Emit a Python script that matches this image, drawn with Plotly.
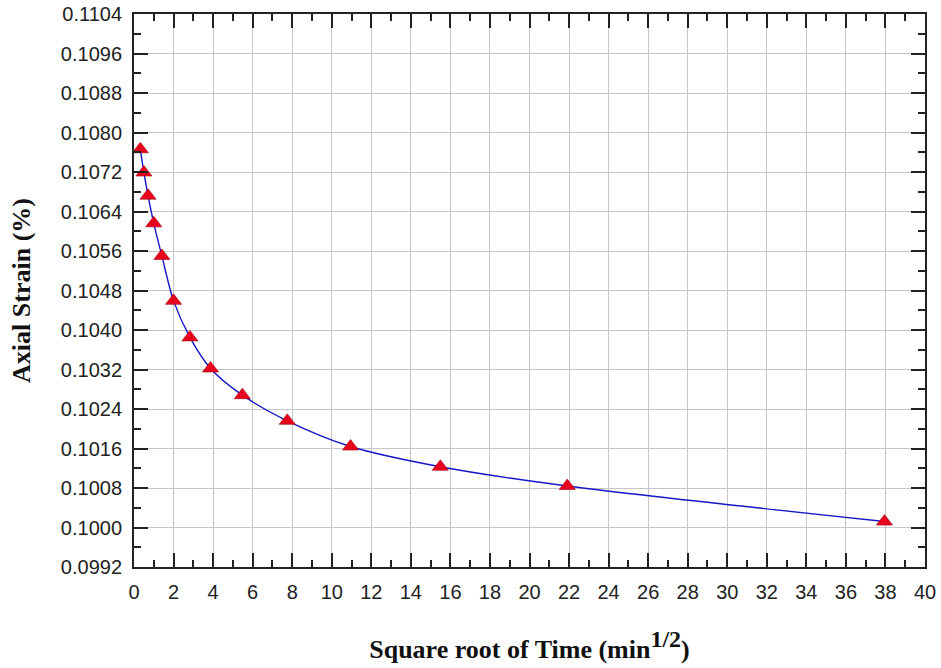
import plotly.graph_objects as go

# Data
sqrt_time = [0.32, 0.50, 0.71, 1.00, 1.41, 2.00, 2.83, 3.87, 5.48, 7.75, 10.95, 15.49, 21.91, 37.95]
axial_strain = [0.10766, 0.10719, 0.10672, 0.10616, 0.10550, 0.10459, 0.10385, 0.10322,
                0.10268, 0.10216, 0.10164, 0.10123, 0.10084, 0.10012]

x_range = [0, 40]
y_range = [0.0992, 0.1104]

fig = go.Figure()
fig.add_trace(go.Scatter(
    x=sqrt_time, y=axial_strain, mode="lines",
    line=dict(color="#1616c8", width=1.4, shape="spline", smoothing=0.8),
    showlegend=False, hoverinfo="skip"))
fig.add_trace(go.Scatter(
    x=sqrt_time, y=axial_strain, mode="markers",
    marker=dict(symbol="triangle-up", size=14, color="#e8001c",
                line=dict(color="#a0000e", width=0.6)),
    showlegend=False))

tickfont = dict(family="Liberation Sans, Arial", size=20, color="#222")
titlefont = dict(family="Liberation Serif, Times New Roman", size=26, color="#111")

fig.update_xaxes(
    range=x_range, dtick=2, tick0=0, automargin=False,
    showline=True, linecolor="#222", linewidth=2, mirror="allticks",
    ticks="inside", ticklen=14, tickwidth=2, tickcolor="#222",
    minor=dict(dtick=1, ticks="inside", ticklen=7, tickwidth=1.5, tickcolor="#222", showgrid=False),
    showgrid=True, gridcolor="#c6c6c6", gridwidth=1,
    zeroline=False, tickfont=tickfont, ticklabelstandoff=6,
    title=dict(text="<b>Square root of Time (min<sup><span style='font-size:24px'>1/2</span></sup>)</b>",
               font=titlefont, standoff=38),
)
fig.update_yaxes(
    range=y_range, dtick=0.0008, tick0=0.0992, tickformat=".4f", automargin=False,
    showline=True, linecolor="#222", linewidth=2, mirror="allticks",
    ticks="inside", ticklen=14, tickwidth=2, tickcolor="#222",
    minor=dict(dtick=0.0004, ticks="inside", ticklen=7, tickwidth=1.5, tickcolor="#222", showgrid=False),
    showgrid=True, gridcolor="#c6c6c6", gridwidth=1,
    zeroline=False, tickfont=tickfont, ticklabelstandoff=6,
    title=dict(text="<b>Axial Strain (%)</b>", font=titlefont, standoff=23),
)

fig.update_layout(
    width=941, height=668,
    margin=dict(l=134, r=16, t=14, b=101),
    paper_bgcolor="white", plot_bgcolor="white",
)

fig.write_html("out.html")
